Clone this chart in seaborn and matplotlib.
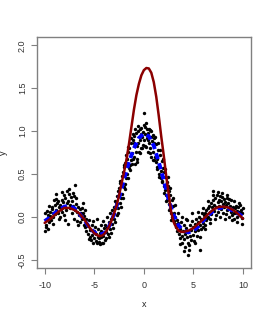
import numpy as np
import pandas as pd
import matplotlib
matplotlib.use("Agg")
import matplotlib.pyplot as plt
import seaborn as sns

pts_x = [-9.97, -9.93, -9.9, -9.85, -9.8, -9.74, -9.7, -9.62, -9.55, -9.5, -9.44, -9.38, -9.3, -9.25, -9.2, -9.12,
         -9.05, -9.0, -8.95, -8.9, -8.82, -8.75, -8.7, -8.62, -8.55, -8.5, -8.43, -8.36, -8.3, -8.22, -8.15, -8.1,
         -8.02, -7.96, -7.9, -7.84, -7.78, -7.72, -7.65, -7.6, -7.52, -7.47, -7.4, -7.33, -7.28, -7.2, -7.12, -7.05,
         -7.0, -6.95, -6.9, -6.82, -6.75, -6.7, -6.62, -6.55, -6.48, -6.4, -6.35, -6.28, -6.2, -6.12, -6.05, -6.0,
         -5.95, -5.88, -5.8, -5.74, -5.66, -5.6, -5.52, -5.45, -5.4, -5.33, -5.25, -5.2, -5.12, -5.05, -5.0, -4.93,
         -4.86, -4.8, -4.72, -4.66, -4.6, -4.52, -4.46, -4.4, -4.33, -4.27, -4.2, -4.13, -4.07, -4.0, -3.94, -3.88,
         -3.8, -3.74, -3.67, -3.6, -3.53, -3.46, -3.4, -3.33, -3.26, -3.2, -3.13, -3.06, -3.0,
         -2.95, -2.88, -2.82, -2.75, -2.7, -2.62, -2.56, -2.5, -2.44, -2.38, -2.3, -2.24, -2.18, -2.1, -2.04, -1.98,
         -1.92, -1.86, -1.8, -1.73, -1.66, -1.6, -1.52, -1.46, -1.4, -1.33, -1.26, -1.2, -1.13, -1.06, -1.0,
         -0.95, -0.9, -0.84, -0.78, -0.72, -0.66, -0.6, -0.54, -0.48, -0.42, -0.36, -0.3, -0.24, -0.18, -0.12, -0.06,
         -0.02, 0.04, 0.1, 0.16, 0.22, 0.28, 0.34, 0.4, 0.46, 0.52, 0.58, 0.64, 0.7, 0.76, 0.82, 0.88, 0.94, 1.0,
         1.06, 1.12, 1.18, 1.25, 1.3, 1.37, 1.43, 1.5, 1.56, 1.62, 1.68, 1.75, 1.8, 1.87, 1.93, 2.0, 2.06, 2.12,
         2.18, 2.25, 2.3, 2.37, 2.43, 2.5, 2.56, 2.62, 2.68, 2.75, 2.8, 2.87, 2.93, 3.0,
         3.06, 3.12, 3.18, 3.25, 3.3, 3.37, 3.43, 3.5, 3.56, 3.62, 3.68, 3.75, 3.8, 3.87, 3.93, 4.0, 4.06, 4.12,
         4.18, 4.25, 4.3, 4.37, 4.43, 4.5, 4.47, 4.56, 4.62, 4.68, 4.75, 4.8, 4.87, 4.93, 5.0, 5.06, 5.12, 5.18,
         5.25, 5.3, 5.37, 5.43, 5.5, 5.56, 5.62, 5.68, 5.75, 5.8, 5.87, 5.93, 6.0,
         6.06, 6.12, 6.18, 6.25, 6.3, 6.37, 6.43, 6.5, 6.56, 6.62, 6.68, 6.75, 6.8, 6.87, 6.93, 7.0, 7.06, 7.12,
         7.18, 7.25, 7.3, 7.37, 7.43, 7.5, 7.56, 7.62, 7.68, 7.75, 7.8, 7.87, 7.93, 8.0, 8.06, 8.12, 8.18, 8.25,
         8.3, 8.37, 8.43, 8.5, 8.56, 8.62, 8.68, 8.75, 8.8, 8.87, 8.93, 9.0, 9.06, 9.12, 9.18, 9.25, 9.3, 9.37,
         9.43, 9.5, 9.56, 9.62, 9.68, 9.75, 9.8, 9.87, 9.93, 9.98,
         # wider scatter
         -9.6, -9.15, -8.85, -8.6, -8.25, -7.95, -7.55, -7.15, -6.85, -6.6, -6.15, -5.9, -5.55, -5.15, -4.75,
         -4.55, -4.35, -4.1, -3.85, -3.55, -3.3, -3.1,
         -2.9, -2.65, -2.45, -2.35, -2.15, -2.0, -1.9, -1.75, -1.62, -1.55, -1.42, -1.3, -1.18, -1.1, -0.98, -0.85,
         -0.7, -0.55, -0.4, -0.28, -0.15, 0.0, 0.12, 0.25, 0.38, 0.5, 0.62, 0.75, 0.9, 1.02, 1.15, 1.28, 1.4, 1.55,
         1.65, 1.78, 1.9, 2.02, 2.15, 2.28, 2.4, 2.52, 2.65, 2.78, 2.9,
         3.15, 3.4, 3.6, 3.85, 4.05, 4.2, 4.6, 4.9, 5.2, 5.45, 5.7, 5.95, 6.2, 6.45, 6.7, 6.95, 7.2, 7.45, 7.65,
         7.9, 8.15, 8.35, 8.6, 8.85, 9.1, 9.35, 9.6, 9.85]
pts_y = [-0.16, 0.04, -0.09, -0.12, 0.07, -0.03, -0.14, 0.02, -0.06, 0.06, 0.01, -0.04, 0.09, 0.12, 0.0, 0.05,
         0.2, 0.14, 0.03, 0.21, 0.08, 0.16, 0.04, 0.19, 0.11, 0.0, 0.14, 0.09, 0.2, 0.06, 0.17, 0.02,
         0.26, 0.12, 0.22, 0.08, 0.3, 0.16, -0.08, 0.19, 0.27, 0.1, 0.14, 0.23, 0.05, 0.18, 0.13, -0.02,
         0.24, 0.37, 0.08, 0.15, -0.05, 0.06, 0.12, 0.02, 0.09, -0.06, 0.04, 0.1, -0.03, 0.05, -0.1, 0.01,
         -0.12, -0.02, -0.16, -0.08, -0.2, -0.11, -0.04, -0.24, -0.15, -0.27, -0.09, -0.21, -0.3, -0.17, -0.25, -0.12,
         -0.28, -0.2, -0.31, -0.23, -0.14, -0.29, -0.19, -0.32, -0.24, -0.16, -0.3, -0.05, -0.22, -0.13, -0.27, -0.1,
         -0.18, 0.0, -0.12, -0.2, -0.06, 0.05, -0.14, -0.02, 0.08, -0.08, 0.02, 0.12, -0.03,
         0.1, -0.06, 0.17, 0.02, 0.24, 0.3, 0.1, 0.34, 0.16, 0.42, 0.22, 0.48, 0.27, 0.52, 0.35, 0.58,
         0.38, 0.63, 0.45, 0.68, 0.5, 0.76, 0.57, 0.8, 0.6, 0.86, 0.66, 0.74, 0.9, 0.68, 0.86,
         0.94, 0.62, 0.76, 0.98, 0.83, 0.68, 1.0, 0.86, 0.76, 1.02, 0.9, 0.8, 1.04, 0.93, 0.84, 0.99,
         1.21, 0.9, 1.05, 0.97, 0.82, 1.03, 0.92, 0.76, 0.98, 0.86, 1.01, 0.8, 0.93, 0.7, 0.88, 0.76, 0.66, 0.86,
         0.92, 0.7, 0.64, 0.85, 0.67, 0.56, 0.78, 0.6, 0.5, 0.72, 0.54, 0.45, 0.65, 0.42, 0.57, 0.36, 0.52, 0.31,
         0.46, 0.25, 0.41, 0.2, 0.36, 0.15, 0.3, 0.1, 0.25, 0.05, 0.2, 0.0, 0.13, -0.05,
         0.04, -0.08, 0.0, -0.12, -0.04, -0.16, -0.07, -0.2, -0.11, -0.25, -0.14, -0.06, -0.22, -0.3, -0.17, -0.09,
         -0.26, -0.2, -0.35, -0.13, -0.24, -0.04, -0.3, -0.18, -0.44, -0.39, -0.22, -0.1, -0.27, -0.15, -0.05, -0.21,
         -0.12, -0.28, -0.08, -0.17, -0.02, -0.13, -0.22, -0.06, -0.15, 0.0, -0.38, -0.1, -0.03, -0.14, 0.04, -0.07,
         -0.12,
         0.02, -0.1, 0.05, -0.04, 0.08, -0.01, 0.1, 0.0, 0.13, -0.07, 0.06, 0.16, 0.03, 0.11, 0.2, 0.3, 0.07, 0.14,
         0.22, 0.02, 0.12, 0.26, 0.17, 0.06, 0.2, 0.13, 0.24, 0.09, 0.18, 0.28, 0.15, 0.05, 0.21, 0.12, 0.17, 0.03,
         0.14, 0.22, 0.08, 0.16, 0.1, 0.0, 0.13, 0.06, 0.2, 0.09, 0.02, 0.12, 0.05, -0.03, 0.1, 0.04, 0.13, 0.0,
         0.07, 0.11, 0.02, 0.06, 0.14, 0.04, 0.08, -0.01, 0.05, 0.1,
         0.13, -0.08, 0.27, -0.03, 0.29, -0.04, 0.33, 0.28, 0.22, -0.09, 0.16, 0.08, -0.26, -0.05, -0.03,
         -0.25, -0.1, -0.31, -0.25, -0.24, -0.19, -0.13,
         0.19, 0.05, 0.4, 0.12, 0.22, 0.61, 0.32, 0.72, 0.45, 0.82, 0.55, 0.92, 0.62, 0.97, 0.7, 1.02,
         0.64, 1.06, 0.74, 0.97, 0.8, 1.07, 0.83, 1.09, 0.9, 1.03, 0.74, 1.0, 0.95, 0.66, 0.93, 0.58, 0.86, 0.47,
         0.78, 0.41, 0.68, 0.28, 0.56, 0.18, 0.46, 0.08, 0.34, -0.04, 0.22,
         0.14, 0.05, -0.32, 0.0, -0.4, -0.02, -0.33, 0.04, -0.31, 0.06, -0.24, 0.1, -0.14, 0.18, -0.03, 0.25,
         -0.02, 0.29, 0.0, 0.23, -0.02, 0.26, 0.21, -0.04, 0.19, -0.06, 0.16, -0.08]

# blue dashed smooth
blue_x = [-10, -9.5, -9, -8.5, -8, -7.5, -7, -6.5, -6, -5.5, -5, -4.5, -4, -3.5, -3, -2.5, -2, -1.5, -1, -0.5,
          0, 0.5, 1, 1.5, 2, 2.5, 3, 3.5, 4, 4.5, 5, 5.5, 6, 6.5, 7, 7.5, 8, 8.5, 9, 9.5, 10]
blue_y = [-0.05, -0.01, 0.04, 0.09, 0.12, 0.13, 0.1, 0.04, -0.04, -0.12, -0.18, -0.21, -0.19, -0.11, 0.03, 0.22,
          0.44, 0.64, 0.8, 0.92, 0.97, 0.94, 0.83, 0.64, 0.43, 0.2, 0.02, -0.1, -0.16, -0.18, -0.16, -0.11, -0.04,
          0.02, 0.07, 0.1, 0.11, 0.1, 0.07, 0.04, 0.0]

# dark red fitted curve
red_x = [-10, -9.5, -9, -8.5, -8, -7.5, -7, -6.5, -6, -5.5, -5, -4.5, -4.25, -4, -3.75, -3.5, -3.25, -3, -2.75,
         -2.5, -2.25, -2, -1.75, -1.5, -1.25, -1, -0.75, -0.5, -0.25, 0, 0.25, 0.5, 0.75, 1, 1.25, 1.5, 1.75, 2,
         2.25, 2.5, 2.75, 3, 3.25, 3.5, 3.75, 4, 4.5, 5, 5.5, 6, 6.5, 7, 7.5, 8, 8.5, 9, 9.5, 10]
red_y = [-0.07, -0.03, 0.02, 0.07, 0.105, 0.105, 0.08, 0.04, -0.03, -0.12, -0.19, -0.225, -0.22, -0.2, -0.16,
         -0.11, -0.04, 0.04, 0.13, 0.25, 0.39, 0.52, 0.67, 0.85, 1.05, 1.25, 1.42, 1.55, 1.65, 1.71, 1.735, 1.73,
         1.68, 1.57, 1.4, 1.18, 0.94, 0.72, 0.48, 0.27, 0.06, -0.06, -0.12, -0.16, -0.175, -0.175, -0.16, -0.13,
         -0.08, -0.025, 0.035, 0.085, 0.115, 0.12, 0.11, 0.08, 0.035, -0.02]

pts = pd.DataFrame({'x': pts_x, 'y': pts_y})
blue = pd.DataFrame({'x': blue_x, 'y': blue_y})
red = pd.DataFrame({'x': red_x, 'y': red_y})

sns.set_style('white')
plt.rcParams['font.family'] = ['Liberation Sans', 'DejaVu Sans']
plt.rcParams['axes.unicode_minus'] = False

fig = plt.figure(figsize=(2.7, 3.15), dpi=100)
ax = fig.add_axes([0.136, 0.148, 0.7936, 0.7355])

sns.scatterplot(data=pts, x='x', y='y', color='black', s=6, linewidth=0, ax=ax, zorder=2)
sns.lineplot(data=blue, x='x', y='y', color='#0000ff', linewidth=2.8, linestyle=(0, (1.6, 1.1)), ax=ax, zorder=3)
sns.lineplot(data=red, x='x', y='y', color='#8b0000', linewidth=1.8, ax=ax, zorder=4)

ax.set_xlim(-10.8, 10.8)
ax.set_ylim(-0.6, 2.1)
ax.set_xticks([-10, -5, 0, 5, 10])
ax.set_yticks([-0.5, 0.0, 0.5, 1.0, 1.5, 2.0])
ax.set_yticklabels(['-0.5', '0.0', '0.5', '1.0', '1.5', '2.0'], rotation=90, va='center')
ax.set_xlabel('x', fontsize=6.5, color='#222222', labelpad=7)
ax.set_ylabel('y', fontsize=6.5, color='#222222', labelpad=7)

for s in ax.spines.values():
    s.set_color('#808080')
    s.set_linewidth(1.0)
ax.tick_params(axis='both', which='both', direction='out', length=4, width=0.8,
               color='#808080', labelsize=6.5, labelcolor='#333333')
ax.tick_params(axis='x', pad=5, bottom=True)
ax.tick_params(axis='y', pad=3, left=True)

fig.savefig('out.png', dpi=100)
